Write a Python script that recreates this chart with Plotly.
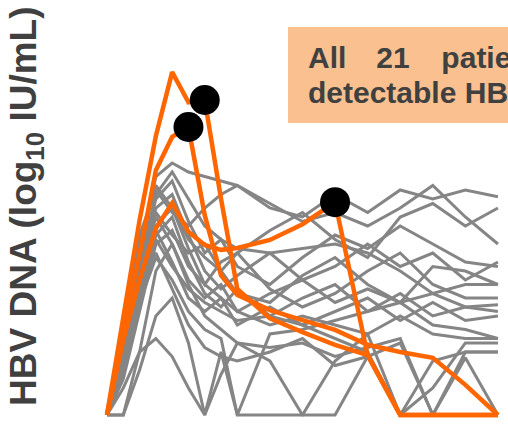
import plotly.graph_objects as go

# visit times (weeks) shared by all patients
weeks = [0, 1, 2, 3, 4, 5, 6, 7, 8, 10, 12, 14, 16, 18, 20, 22, 24]

# HBV DNA (log10 IU/mL), 18 patients without event (grey)
grey_patients = [
    [1.0, 2.6, 4.6, 6.3, 6.6, 6.4, 6.3, 6.2, 6.1, 5.7, 5.3, 5.5, 5.2, 5.6, 6.1, 5.4, 4.8],
    [1.0, 3.0, 5.0, 6.0, 5.5, 5.2, 5.6, 5.9, 6.1, 5.6, 5.4, 5.9, 5.5, 6.0, 5.8, 6.0, 5.85],
    [1.0, 2.8, 4.8, 6.1, 5.6, 4.9, 4.5, 4.2, 4.6, 5.1, 5.5, 4.9, 4.5, 5.4, 5.7, 5.2, 5.6],
    [1.0, 2.5, 4.3, 5.8, 6.2, 5.3, 4.6, 4.9, 4.3, 3.9, 4.5, 5.0, 4.7, 5.2, 4.8, 4.4, 4.3],
    [1.0, 2.2, 4.0, 5.6, 5.9, 5.0, 4.2, 3.8, 4.1, 4.6, 4.0, 4.3, 4.8, 4.3, 4.6, 4.0, 4.4],
    [1.0, 2.4, 4.2, 5.5, 5.0, 4.6, 4.8, 4.2, 3.7, 3.5, 4.1, 4.5, 3.9, 3.5, 4.3, 4.2, 3.9],
    [1.0, 2.0, 3.6, 5.2, 5.6, 4.7, 3.9, 4.4, 4.6, 3.8, 3.4, 3.7, 4.2, 4.6, 3.9, 3.6, 3.6],
    [1.0, 2.3, 4.1, 5.4, 4.8, 4.0, 3.6, 3.9, 3.3, 3.7, 4.0, 3.5, 3.8, 3.5, 3.7, 3.4, 3.45],
    [1.0, 1.9, 3.4, 5.0, 5.4, 4.4, 3.7, 3.4, 3.8, 3.2, 3.6, 3.9, 3.3, 3.7, 3.2, 3.4, 3.3],
    [1.0, 2.1, 3.8, 5.1, 4.4, 3.6, 3.3, 3.6, 3.0, 3.4, 3.0, 3.3, 3.6, 3.1, 3.5, 3.1, 3.2],
    [1.0, 1.8, 3.3, 4.8, 5.1, 4.3, 3.9, 3.6, 3.3, 3.0, 3.2, 3.0, 2.8, 3.2, 2.8, 2.7, 2.7],
    [1.0, 2.0, 3.7, 4.9, 4.3, 3.8, 3.5, 3.3, 3.1, 3.2, 3.0, 2.7, 2.4, 1.0, 2.2, 2.4, 2.4],
    [1.0, 1.0, 2.4, 4.2, 4.8, 3.9, 3.2, 2.9, 2.6, 2.2, 1.0, 1.0, 2.3, 1.0, 1.6, 2.6, 2.6],
    [1.0, 2.2, 3.9, 4.6, 3.8, 3.0, 2.5, 2.3, 2.2, 2.4, 2.7, 2.1, 2.3, 2.6, 1.0, 2.27, 1.0],
    [1.0, 1.6, 2.4, 2.7, 2.3, 1.6, 1.0, 1.9, 2.6, 2.5, 2.6, 2.3, 2.5, 2.7, 1.0, 2.4, 2.4],
    [1.0, 1.0, 2.0, 3.2, 3.6, 2.6, 1.0, 2.4, 1.0, 2.8, 2.9, 3.1, 3.3, 3.5, 3.0, 2.9, 2.7],
    [1.0, 2.0, 3.5, 4.5, 4.0, 3.3, 2.9, 2.7, 1.0, 1.0, 1.0, 2.2, 2.8, 1.0, 1.0, 1.0, 1.0],
    [1.0, 2.5, 4.4, 5.9, 6.4, 5.8, 5.2, 4.9, 4.7, 4.6, 4.7, 4.8, 4.6, 4.2, 3.7, 3.9, 3.9],
]

# 3 patients with an event (orange)
orange_patients = [
    [1.0, 3.1, 5.33, 7.2, 8.62, 7.95, 8.0, 5.8, 3.8, 3.15, 2.84, 2.56, 2.33, 1.0, 1.0, 1.0, 1.0],
    [1.0, 2.9, 4.56, 6.44, 7.18, 7.4, 5.44, 4.1, 3.67, 3.33, 3.11, 2.89, 2.56, 2.4, 2.27, 1.67, 1.0],
    [1.0, 2.67, 4.0, 5.15, 5.71, 5.07, 4.78, 4.67, 4.71, 4.89, 5.24, 5.73, 2.33, 1.0, 1.0, 1.0, 1.0],
]

# event markers (week, log10 HBV DNA)
event_weeks = [6, 5, 14]
event_values = [8.0, 7.4, 5.73]

y_title = "<b>HBV DNA (log<sub>10</sub> IU/mL)</b>"
box_line1 = "All\u2002\u200221\u2002\u00a0\u00a0patients had"
box_line2 = "detectable HBV DNA"

fig = go.Figure()
for vals in grey_patients:
    fig.add_trace(go.Scatter(x=weeks, y=vals, mode="lines",
                             line=dict(color="#858585", width=3),
                             hoverinfo="skip", showlegend=False))
for vals in orange_patients:
    fig.add_trace(go.Scatter(x=weeks, y=vals, mode="lines",
                             line=dict(color="#FF6600", width=4.5),
                             hoverinfo="skip", showlegend=False))
fig.add_trace(go.Scatter(x=event_weeks, y=event_values, mode="markers",
                         marker=dict(color="black", size=30),
                         hoverinfo="skip", showlegend=False, cliponaxis=False))

font_fam = "Liberation Sans, Arial, sans-serif"
fig.update_layout(
    width=508, height=424,
    margin=dict(l=100, r=5, t=32, b=5),
    paper_bgcolor="white", plot_bgcolor="white",
    xaxis=dict(range=[-0.43, 24.31], visible=False),
    yaxis=dict(range=[0.911, 9.511], visible=False),
    shapes=[dict(type="rect", xref="paper", yref="paper",
                 x0=0.4665, x1=1.1, y0=0.7649, y1=1.0129,
                 fillcolor="#FAC090", line=dict(width=0), layer="above")],
    annotations=[
        dict(text=y_title, xref="paper", yref="paper", x=-0.1836, y=0.548,
             xanchor="center", yanchor="middle", textangle=-90, showarrow=False,
             font=dict(family=font_fam, size=37, color="#404040")),
        dict(text="<b>" + box_line1 + "</b>", xref="paper", yref="paper",
             x=0.511, y=0.9354, xanchor="left", yanchor="middle", showarrow=False,
             font=dict(family=font_fam, size=30, color="#404040")),
        dict(text="<b>" + box_line2 + "</b>", xref="paper", yref="paper",
             x=0.511, y=0.8424, xanchor="left", yanchor="middle", showarrow=False,
             font=dict(family=font_fam, size=30, color="#404040")),
    ],
)
fig.write_html("out.html", config={"displayModeBar": False},
               post_script="document.body.style.margin='0';document.body.style.overflow='hidden';")
